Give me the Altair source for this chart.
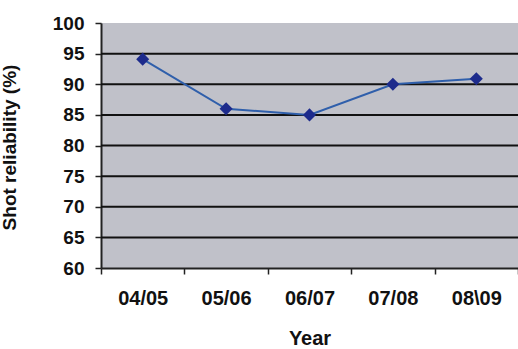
import altair as alt
import pandas as pd

years = ["04/05", "05/06", "06/07", "07/08", "08\\09"]
reliability = [94.1, 86.0, 85.0, 90.0, 90.9]
grid_values = [65, 70, 75, 80, 85, 90, 95]
y_ticks = [60, 65, 70, 75, 80, 85, 90, 95, 100]

df = pd.DataFrame({"Year": years, "Reliability": reliability})
grid_df = pd.DataFrame({"g": grid_values})

FONT = "Liberation Sans"

x_axis = alt.Axis(
    title="Year",
    labelAngle=0,
    labelFontSize=20,
    labelFontWeight="bold",
    labelFont=FONT,
    labelColor="#111111",
    labelPadding=14,
    labelOverlap=False,
    titleFontSize=20,
    titleFontWeight="bold",
    titleFont=FONT,
    titleColor="#111111",
    titlePadding=20,
    tickBand="extent",
    tickSize=6,
    tickColor="#222222",
    tickWidth=1.5,
    domainColor="#222222",
    domainWidth=2,
    grid=False,
)

y_axis = alt.Axis(
    title="Shot reliability (%)",
    values=y_ticks,
    labelOverlap=False,
    labelFontSize=19,
    labelFontWeight="bold",
    labelFont=FONT,
    labelColor="#111111",
    labelPadding=11,
    titleFontSize=19,
    titleFontWeight="bold",
    titleFont=FONT,
    titleColor="#111111",
    titleX=-82,
    titleY=124,
    tickSize=6,
    tickColor="#222222",
    tickWidth=1.5,
    domainColor="#222222",
    domainWidth=2,
    grid=False,
)

x_scale = alt.Scale(paddingInner=0, paddingOuter=0)
y_scale = alt.Scale(domain=[60, 100], nice=False, zero=False)

grid = alt.Chart(grid_df).mark_rule(color="#111111", strokeWidth=2).encode(
    y=alt.Y("g:Q", scale=y_scale, axis=y_axis, title="Shot reliability (%)"),
)

line = alt.Chart(df).mark_line(color="#2f5fab", strokeWidth=2).encode(
    x=alt.X("Year:N", sort=years, scale=x_scale, axis=x_axis),
    y=alt.Y("Reliability:Q", scale=y_scale, axis=y_axis),
)

points = alt.Chart(df).mark_point(
    shape="diamond", filled=True, color="#1d2b8c", size=170, opacity=1
).encode(
    x=alt.X("Year:N", sort=years, scale=x_scale, axis=x_axis),
    y=alt.Y("Reliability:Q", scale=y_scale, axis=y_axis),
)

chart = (
    alt.layer(grid, line, points)
    .properties(
        width=417,
        height=245,
        autosize=alt.AutoSizeParams(type="none"),
        padding={"left": 101, "top": 23, "right": 0, "bottom": 81},
        background="white",
    )
    .configure_view(fill="#c0c1c9", stroke=None)
)

chart.save("out.html", embed_options={"renderer": "svg", "actions": False})
